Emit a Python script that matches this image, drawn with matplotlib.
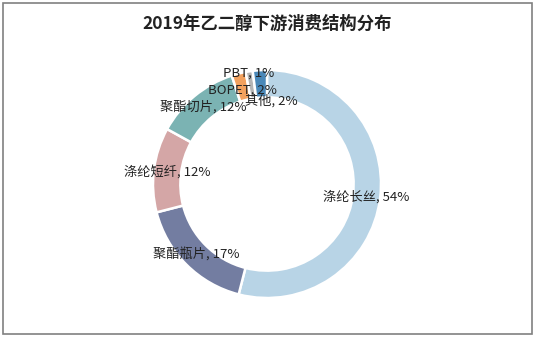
import matplotlib
matplotlib.use("Agg")
import matplotlib.pyplot as plt
from matplotlib.patches import Rectangle

plt.rcParams['font.family'] = ['Noto Sans CJK SC', 'DejaVu Sans']

title = "2019年乙二醇下游消费结构分布"
categories = ["涤纶长丝", "聚酯瓶片", "涤纶短纤", "聚酯切片", "BOPET", "PBT", "其他"]
values = [54, 17, 12, 12, 2, 1, 2]
colors = ["#B8D4E6", "#737DA1", "#D4A6A6", "#7BB3B3", "#F2A15E", "#B5B5B5", "#4A88B8"]

fig = plt.figure(figsize=(5.35, 3.39), dpi=100)
fig.patches.append(Rectangle((3/535, 5/339), 529/535, 331/339, transform=fig.transFigure,
                             fill=False, edgecolor="#808080", linewidth=1.2))
fig.text(0.5, 1 - 24/339, title, ha="center", va="center", fontsize=12.5,
         fontweight="bold", color="#222222")

# circle centre (267,184) px, outer radius 114 px
cx, cy, r = 267, 184, 114
ax = fig.add_axes([(cx - r) / 535, 1 - (cy + r) / 339, 2 * r / 535, 2 * r / 339])

labels = [f"{c}, {v}%" for c, v in zip(categories, values)]
wedges, texts = ax.pie(values, colors=colors, startangle=90, counterclock=False,
                       radius=1.0, labels=labels, labeldistance=0.88,
                       wedgeprops=dict(width=0.24, edgecolor="white", linewidth=1.8),
                       textprops=dict(fontsize=9.5, color="#222222", ha="center", va="center"))
ax.set_xlim(-1, 1)
ax.set_ylim(-1, 1)
ax.set_aspect("equal")
ax.axis("off")
for t in texts:
    t.set_ha("center")
    t.set_va("center")
# small-slice label adjustments (as in the reference layout)
x, y = texts[5].get_position()
texts[5].set_position((x - 0.02, y + 0.10))
x, y = texts[6].get_position()
texts[6].set_position((x + 0.09, y - 0.15))
x, y = texts[4].get_position()
texts[4].set_position((x, y - 0.03))

fig.savefig("out.png", dpi=100)
